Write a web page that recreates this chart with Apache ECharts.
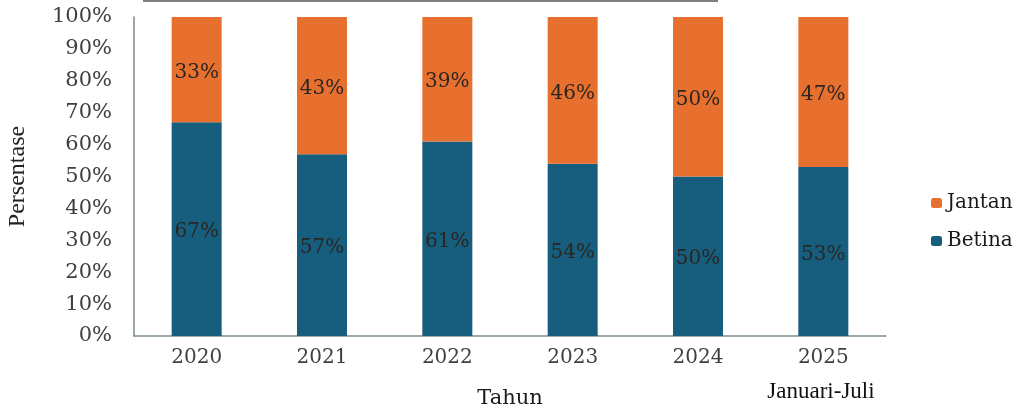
<!DOCTYPE html>
<html><head><meta charset="utf-8">
<script src="https://cdn.jsdelivr.net/npm/echarts@6/dist/echarts.min.js"></script>
<style>html,body{margin:0;padding:0;background:#fff}#c{width:1024px;height:410px}</style>
</head><body><div id="c"></div>
<script>
const categories = ['2020','2021','2022','2023','2024','2025'];
const betina = [67, 57, 61, 54, 50, 53];
const jantan = [33, 43, 39, 46, 50, 47];
const font = '"DejaVu Serif", serif';
const tfont = '"Liberation Serif", serif';
const chart = echarts.init(document.getElementById('c'));
const lbl = {show:true, position:'inside', offset:[0,3], formatter: p => p.value + '%', color:'#2a2622', fontFamily:font, fontSize:20};
chart.setOption({
  animation:false,
  textStyle:{fontFamily:font},
  grid:{left:134, right:138, top:17, bottom:74, containLabel:false, outerBoundsMode:'none'},
  legend:{
    orient:'vertical', left:926, top:188, itemGap:18, itemWidth:11, itemHeight:10,
    data:['Jantan','Betina'],
    textStyle:{fontFamily:font, fontSize:20, color:'#1a1a1a'}
  },
  xAxis:{
    type:'category', data:categories,
    axisLine:{lineStyle:{color:'#7a8a90', width:1.5}},
    axisTick:{show:false},
    axisLabel:{color:'#404040', fontSize:20, fontFamily:font, margin:12},
    name:'Tahun', nameLocation:'middle', nameGap:52,
    nameTextStyle:{color:'#1a1a1a', fontSize:21, fontFamily:font}
  },
  yAxis:{
    type:'value', min:0, max:100, interval:10,
    axisLine:{show:true, lineStyle:{color:'#7a8a90', width:1.5}},
    splitLine:{show:false},
    axisLabel:{formatter:'{value}%', color:'#404040', fontSize:21, fontFamily:font, margin:22},
    name:'Persentase', nameLocation:'middle', nameGap:104,
    nameTextStyle:{color:'#222', fontSize:24, fontFamily:tfont}
  },
  series:[
    {name:'Betina', type:'bar', stack:'a', data:betina, barWidth:50, itemStyle:{color:'#175E7E'}, label:lbl},
    {name:'Jantan', type:'bar', stack:'a', data:jantan, barWidth:50, itemStyle:{color:'#E8702F'}, label:lbl}
  ],
  graphic:[
    {type:'line', shape:{x1:143,y1:1,x2:718,y2:1}, style:{stroke:'#808080', lineWidth:2}},
    {type:'text', x:821, y:392, style:{text:'Januari-Juli', font:'23px "Liberation Serif", serif', fill:'#111', align:'center', verticalAlign:'middle'}}
  ]
});
</script></body></html>
